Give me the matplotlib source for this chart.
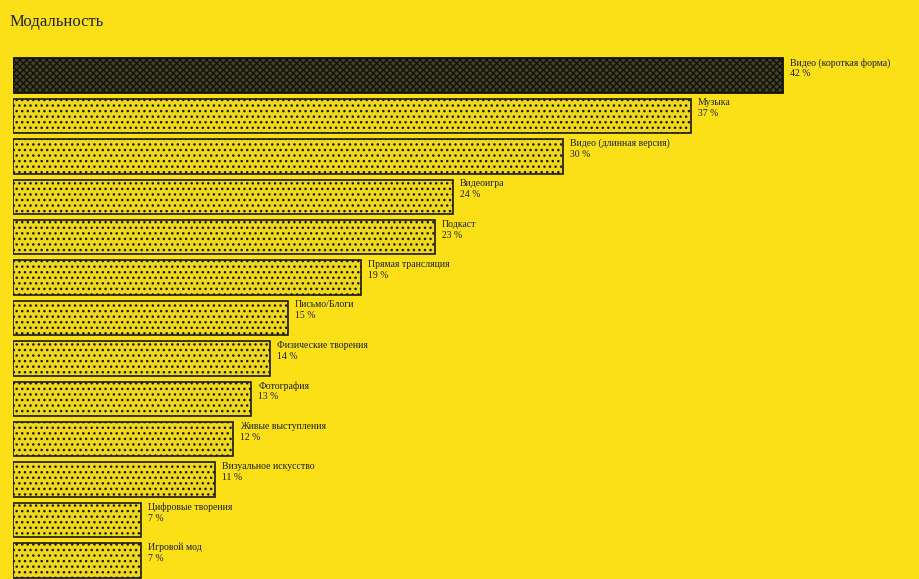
import matplotlib.pyplot as plt
import numpy as np

categories = ['Видео (короткая форма)', 'Музыка', 'Видео (длинная версия)', 'Видеоигра',
              'Подкаст', 'Прямая трансляция', 'Письмо/Блоги', 'Физические творения',
              'Фотография', 'Живые выступления', 'Визуальное искусство',
              'Цифровые творения', 'Игровой мод']
values = [42, 37, 30, 24, 23, 19, 15, 14, 13, 12, 11, 7, 7]

bg = '#fbe017'
plt.rcParams['font.family'] = ['Liberation Serif', 'DejaVu Serif']
plt.rcParams['hatch.linewidth'] = 1.0

fig = plt.figure(figsize=(9.2, 5.79), dpi=100, facecolor=bg)
# axes placed in pixel terms so bars line up with the reference
ax = fig.add_axes([13 / 920, 1 - 580.7 / 579, 49 * 18.33 / 920, 525.4 / 579])
ax.set_facecolor(bg)

for i, v in enumerate(values):
    if i == 0:
        ax.barh(i, v, height=0.85, color='#47431e', edgecolor='#111111',
                hatch='xxxxx', linewidth=1.3)
    else:
        ax.barh(i, v, height=0.85, color='#f0d81a', edgecolor='#1a1a1a',
                hatch='...', linewidth=1.2)
    ax.annotate(categories[i], (v, i - 0.42), xytext=(5, 0.5), textcoords='offset points',
                ha='left', va='top', fontsize=7, color='#1e1e1e')
    ax.annotate(f'{v} %', (v, i - 0.42), xytext=(5, -7.5), textcoords='offset points',
                ha='left', va='top', fontsize=7, color='#1e1e1e')

ax.set_xlim(0, 49)
ax.set_ylim(len(values) - 0.5, -0.5)
ax.axis('off')

fig.text(10 / 920, 1 - 22 / 579, 'Модальность', fontsize=12, color='#222222',
         ha='left', va='center')

plt.savefig('out.png', dpi=100, facecolor=bg)
